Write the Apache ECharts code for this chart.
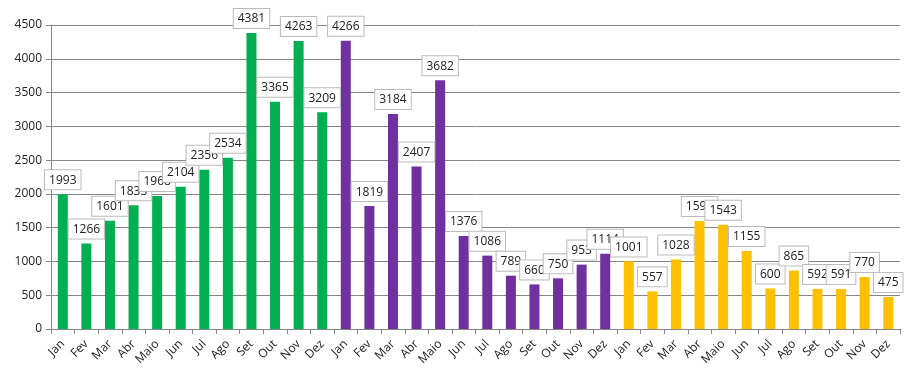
<!DOCTYPE html>
<html><head><meta charset="utf-8">
<script src="https://cdn.jsdelivr.net/npm/echarts@6/dist/echarts.min.js"></script>
<style>html,body{margin:0;padding:0;background:#fff}#c{width:913px;height:376px}</style>
</head><body><div id="c"></div>
<script>
const months = ["Jan","Fev","Mar","Abr","Maio","Jun","Jul","Ago","Set","Out","Nov","Dez"];
const year1 = [1993,1266,1601,1833,1968,2104,2356,2534,4381,3365,4263,3209];
const year2 = [4266,1819,3184,2407,3682,1376,1086,789,660,750,953,1114];
const year3 = [1001,557,1028,1599,1543,1155,600,865,592,591,770,475];
const yTicks = [0,500,1000,1500,2000,2500,3000,3500,4000,4500];
const colors = ["#00B050","#7030A0","#FFC000"];

const categories = months.concat(months, months);
const data = [];
[year1, year2, year3].forEach((arr, i) => arr.forEach(v => data.push({value: v, itemStyle: {color: colors[i]}})));

const chart = echarts.init(document.getElementById('c'), null, {renderer: 'canvas'});
chart.setOption({
  animation: false,
  grid: {left: 51, right: 13, top: 25, bottom: 47},
  xAxis: {
    type: 'category', data: categories,
    axisLine: {lineStyle: {color: '#868686'}},
    axisTick: {show: true, lineStyle: {color: '#868686'}, length: 5},
    axisLabel: {rotate: 45, interval: 0, fontSize: 12, color: '#222', fontFamily: 'Open Sans', margin: 13}
  },
  yAxis: {
    type: 'value', min: yTicks[0], max: yTicks[yTicks.length-1], interval: 500,
    axisLine: {show: true, lineStyle: {color: '#868686'}},
    axisTick: {show: true, length: 5, lineStyle: {color: '#868686'}},
    axisLabel: {fontSize: 12, color: '#222', fontFamily: 'Open Sans', margin: 9, formatter: v => String(v)},
    splitLine: {lineStyle: {color: '#868686'}}
  },
  series: [{
    type: 'bar', data: data, barWidth: 10,
    label: {
      show: true, position: 'top', distance: 5,
      fontSize: 12, color: '#222', fontFamily: 'Open Sans',
      backgroundColor: '#fff', borderColor: '#bbb', borderWidth: 1,
      padding: [4, 4, 3, 4]
    }
  }]
});
</script></body></html>
